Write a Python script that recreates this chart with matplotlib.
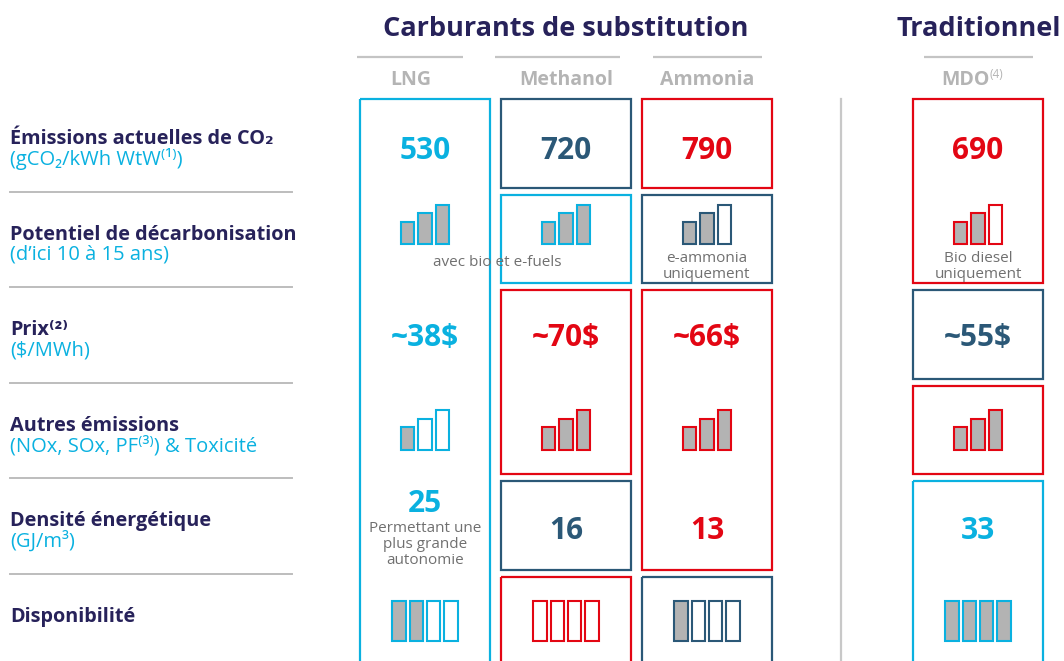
import matplotlib.pyplot as plt
from matplotlib.patches import Rectangle

plt.rcParams['font.family'] = ['Open Sans', 'DejaVu Sans']

# --- data ---
fuels = ['LNG', 'Methanol', 'Ammonia', 'MDO']
co2 = ['530', '720', '790', '690']
prices = ['~38$', '~70$', '~66$', '~55$']
density = ['25', '16', '13', '33']
decarb_filled = [3, 3, 2, 2]      # out of 3
other_filled = [1, 3, 3, 3]       # out of 3
avail_filled = [2, 0, 1, 4]       # out of 4
decarb_notes = ['', '', 'e-ammonia\nuniquement', 'Bio diesel\nuniquement']
density_note = 'Permettant une\nplus grande\nautonomie'
shared_note = 'avec bio et e-fuels'

# rating of each cell, rows top -> bottom (g = good, m = medium, b = bad)
ratings = {
    'LNG':      ['g', 'g', 'g', 'g', 'g', 'g'],
    'Methanol': ['m', 'g', 'b', 'b', 'm', 'b'],
    'Ammonia':  ['b', 'm', 'b', 'b', 'b', 'm'],
    'MDO':      ['b', 'b', 'm', 'b', 'g', 'g'],
}

row_titles = ['Émissions actuelles de CO₂', 'Potentiel de décarbonisation', 'Prix⁽²⁾',
              'Autres émissions', 'Densité énergétique', 'Disponibilité']
row_subs = ['(gCO₂/kWh WtW⁽¹⁾)', '(d’ici 10 à 15 ans)', '($/MWh)',
            '(NOx, SOx, PF⁽³⁾) & Toxicité', '(GJ/m³)', '']

# --- style ---
COL = {'g': '#0ab1e0', 'm': '#2b5877', 'b': '#e30613'}
NAVY = '#27225a'
GREY_HEAD = '#b4b4b4'
GREY_TXT = '#707070'
FILL = '#b3b3b3'

col_left = [360, 501, 642, 913]
col_w = 130
row_top = [99 + i * 95.6 for i in range(6)]
row_h = 88.5

fig = plt.figure(figsize=(10.64, 6.61), dpi=100)
ax = fig.add_axes([0, 0, 1, 1])
ax.set_xlim(0, 1064)
ax.set_ylim(661, 0)
ax.axis('off')

# headers
ax.text(566, 29, 'Carburants de substitution', ha='center', va='center',
        fontsize=19.5, fontweight='bold', color=NAVY)
ax.text(979, 29, 'Traditionnel', ha='center', va='center',
        fontsize=19.5, fontweight='bold', color=NAVY)
head_x = [411, 566, 707, 965]
head_lines = [(357, 463), (495, 620), (653, 762), (924, 1033)]
for name, hx, (x0, x1) in zip(fuels, head_x, head_lines):
    ax.plot([x0, x1], [57, 57], color='#c4c4c4', lw=1.6, solid_capstyle='butt')
    ax.text(hx, 80, name, ha='center', va='center', fontsize=14,
            fontweight='bold', color=GREY_HEAD)
ax.text(990, 75, '(4)', ha='left', va='center', fontsize=8.5, color=GREY_HEAD)

# vertical separator
ax.plot([841, 841], [99, 661], color='#c8c8c8', lw=1.6)

# row labels
for i, (t, s) in enumerate(zip(row_titles, row_subs)):
    y = row_top[i] + 40
    ax.text(10, y, t, ha='left', va='center', fontsize=14.3, fontweight='bold', color=NAVY)
    if s:
        ax.text(10, y + 20, s, ha='left', va='center', fontsize=14.5, color=COL['g'])
    if i > 0:
        ax.plot([10, 292], [row_top[i] - 3, row_top[i] - 3], color='#bdbdbd', lw=1.4)

# boxes: merge consecutive cells with the same rating
for j, f in enumerate(fuels):
    r = ratings[f]
    start = 0
    for i in range(1, 7):
        if i == 6 or r[i] != r[start]:
            top = row_top[start]
            bot = row_top[i - 1] + row_h if i < 6 else 680
            ax.add_patch(Rectangle((col_left[j], top), col_w, bot - top, fill=False,
                                   edgecolor=COL[r[start]], lw=1.6))
            start = i


def bar_icon(cx, bottom, heights, filled, color, width=13.5, pitch=17.3):
    n = len(heights)
    xs = [cx + (k - (n - 1) / 2) * pitch for k in range(n)]
    faces = [FILL if k < filled else 'white' for k in range(n)]
    ax.bar(xs, [-h for h in heights], bottom=bottom, width=width,
           color=faces, edgecolor=color, linewidth=1.5)


for j, f in enumerate(fuels):
    cx = col_left[j] + col_w / 2
    r = ratings[f]
    # row 1 : CO2
    ax.text(cx, 151, co2[j], ha='center', va='center', fontsize=21.5,
            fontweight='bold', color=COL[r[0]])
    # row 2 : decarbonisation potential
    bar_icon(cx, 244, [22, 31, 39], decarb_filled[j], COL[r[1]])
    if decarb_notes[j]:
        l1, l2 = decarb_notes[j].split('\n')
        ax.text(cx, 258, l1, ha='center', va='center', fontsize=11, color=GREY_TXT)
        ax.text(cx, 274, l2, ha='center', va='center', fontsize=11, color=GREY_TXT)
    # row 3 : price
    ax.text(cx, 338, prices[j], ha='center', va='center', fontsize=21.5,
            fontweight='bold', color=COL[r[2]])
    # row 4 : other emissions
    bar_icon(cx, 450, [23, 31, 40], other_filled[j], COL[r[3]])
    # row 5 : energy density
    if j == 0:
        ax.text(cx, 504, density[j], ha='center', va='center', fontsize=21.5,
                fontweight='bold', color=COL[r[4]])
        for k, line in enumerate(density_note.split('\n')):
            ax.text(cx, 529 + 16 * k, line, ha='center', va='center',
                    fontsize=11, color=GREY_TXT)
    else:
        ax.text(cx, 531, density[j], ha='center', va='center', fontsize=21.5,
                fontweight='bold', color=COL[r[4]])
    # row 6 : availability
    bar_icon(cx, 641, [40, 40, 40, 40], avail_filled[j], COL[r[5]])

ax.text(497, 263, shared_note, ha='center', va='center', fontsize=11, color=GREY_TXT)

fig.savefig('out.png', dpi=100)
